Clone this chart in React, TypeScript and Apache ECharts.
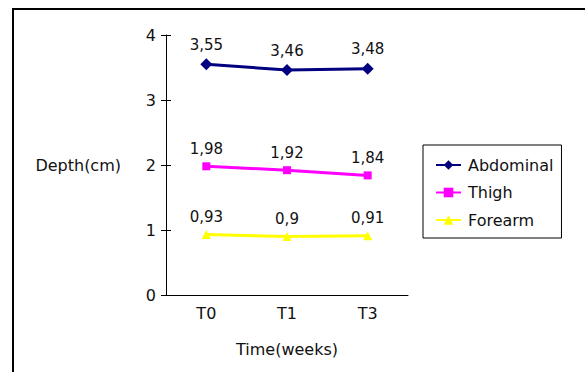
import React, { useEffect, useRef } from "react";
import * as echarts from "echarts";

const categories = ["T0", "T1", "T3"];
const abdominal = [3.55, 3.46, 3.48];
const thigh = [1.98, 1.92, 1.84];
const forearm = [0.93, 0.9, 0.91];
const yTicks = { min: 0, max: 4, interval: 1 };

const FONT = "DejaVu Sans";

export default function App() {
  const ref = useRef<HTMLDivElement>(null);
  useEffect(() => {
    if (!ref.current) return;
    const chart = echarts.init(ref.current, null, { renderer: "svg" });
    const label = {
      show: true,
      position: "top" as const,
      distance: 6,
      fontFamily: FONT,
      fontSize: 15,
      color: "#111",
      formatter: (p: any) => String(p.value).replace(".", ","),
    };
    const mk = (name: string, data: number[], color: string, symbol: string, size: number) => ({
      name,
      type: "line",
      data,
      symbol,
      symbolSize: size,
      lineStyle: { color, width: 3 },
      itemStyle: { color },
      label,
    });
    chart.setOption({
      animation: false,
      backgroundColor: "#fff",
      textStyle: { fontFamily: FONT },
      grid: { left: 166, right: 177, top: 35, bottom: 77 },
      xAxis: {
        type: "category",
        data: categories,
        boundaryGap: true,
        axisLine: { lineStyle: { color: "#000", width: 1 } },
        axisTick: { show: false },
        axisLabel: { color: "#111", fontFamily: FONT, fontSize: 16, margin: 10 },
        name: "Time(weeks)",
        nameLocation: "middle",
        nameGap: 46,
        nameTextStyle: { color: "#111", fontFamily: FONT, fontSize: 16 },
      },
      yAxis: [
        {
          type: "value",
          ...yTicks,
          axisLine: { show: true, lineStyle: { color: "#000", width: 1 } },
          axisTick: { show: true, length: 5, lineStyle: { color: "#000" } },
          splitLine: { show: false },
          axisLabel: { color: "#111", fontFamily: FONT, fontSize: 16, margin: 10 },
          name: "Depth(cm)",
          nameLocation: "middle",
          nameRotate: 0,
          nameGap: 45,
          nameTextStyle: { color: "#111", fontFamily: FONT, fontSize: 16, align: "right" },
        },
        {
          type: "value",
          ...yTicks,
          position: "left",
          axisLine: { show: false },
          axisTick: { show: true, inside: true, length: 5, lineStyle: { color: "#000" } },
          splitLine: { show: false },
          axisLabel: { show: false },
        },
      ],
      legend: {
        orient: "vertical",
        left: 423,
        top: 145,
        borderColor: "#000",
        borderWidth: 1,
        padding: [12, 8, 10, 12],
        itemWidth: 25,
        itemHeight: 12,
        itemGap: 11.5,
        textStyle: { color: "#111", fontFamily: FONT, fontSize: 16, padding: [0, 0, 0, 2] },
        data: ["Abdominal", "Thigh", "Forearm"],
      },
      series: [
        mk("Abdominal", abdominal, "#000080", "diamond", 12),
        mk("Thigh", thigh, "#ff00ff", "rect", 8),
        mk("Forearm", forearm, "#ffff00", "triangle", 9),
      ],
      graphic: [
        { type: "line", shape: { x1: 12, y1: 9, x2: 585, y2: 9 }, style: { stroke: "#000", lineWidth: 2 } },
        { type: "line", shape: { x1: 13, y1: 9, x2: 13, y2: 372 }, style: { stroke: "#000", lineWidth: 2 } },
      ],
    });
    return () => chart.dispose();
  }, []);
  return (
    <div
      ref={ref}
      style={{ position: "fixed", left: 0, top: 0, width: 585, height: 372, background: "#fff" }}
    />
  );
}
